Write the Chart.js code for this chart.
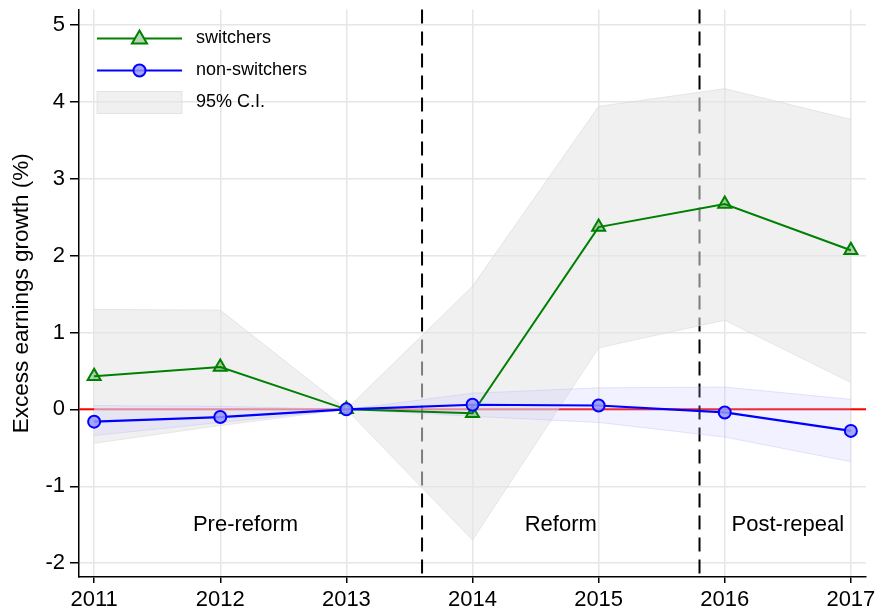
<!DOCTYPE html>
<html>
<head>
<meta charset="utf-8">
<script src="https://cdn.jsdelivr.net/npm/chart.js@4.4.1/dist/chart.umd.min.js"></script>
<style>
  html, body { margin: 0; padding: 0; background: #fff; }
  canvas { display: block; }
</style>
</head>
<body>
<canvas id="myChart" width="876" height="613"></canvas>
<script>
// values
const years = [2011, 2012, 2013, 2014, 2015, 2016, 2017];
const switchers = [0.43, 0.55, 0, -0.05, 2.37, 2.67, 2.07];
const switchersHi = [1.30, 1.29, 0, 1.60, 3.94, 4.17, 3.77];
const switchersLo = [-0.44, -0.21, 0, -1.70, 0.80, 1.16, 0.35];
const nonSwitchers = [-0.16, -0.10, 0, 0.06, 0.05, -0.04, -0.28];
const nonSwitchersHi = [0.05, 0.04, 0, 0.21, 0.28, 0.29, 0.13];
const nonSwitchersLo = [-0.34, -0.17, 0, -0.09, -0.17, -0.36, -0.68];
const yTicks = [-2, -1, 0, 1, 2, 3, 4, 5];
const periodBreaks = [2013.6, 2015.8];
const periodNames = ["Pre-reform", "Reform", "Post-repeal"];
const periodLabelX = [2012.2, 2014.7, 2016.5];
const periodLabelY = -1.5;

const FONT = "'Liberation Sans', Arial, sans-serif";
const pts = (arr) => years.map((x, i) => ({ x: x, y: arr[i] }));

// zero line + period separators, drawn under the bands
const refLines = {
  id: "refLines",
  beforeDatasetsDraw(chart) {
    const { ctx, chartArea, scales } = chart;
    ctx.save();
    const y0 = scales.y.getPixelForValue(0);
    ctx.strokeStyle = "#ff0000";
    ctx.lineWidth = 2;
    ctx.beginPath();
    ctx.moveTo(chartArea.left, y0);
    ctx.lineTo(chartArea.right, y0);
    ctx.stroke();
    ctx.strokeStyle = "#000";
    ctx.lineWidth = 2;
    ctx.setLineDash([14, 8]);
    periodBreaks.forEach((b) => {
      const x = scales.x.getPixelForValue(b);
      ctx.beginPath();
      ctx.moveTo(x, chartArea.top);
      ctx.lineTo(x, chartArea.bottom);
      ctx.stroke();
    });
    ctx.restore();
  },
  afterDatasetsDraw(chart) {
    const { ctx, scales } = chart;
    ctx.save();
    ctx.fillStyle = "#000";
    ctx.font = "22px " + FONT;
    ctx.textAlign = "center";
    ctx.textBaseline = "middle";
    periodNames.forEach((name, i) => {
      ctx.fillText(name, scales.x.getPixelForValue(periodLabelX[i]), scales.y.getPixelForValue(periodLabelY));
    });
    ctx.restore();
  }
};

// legend box in the top-left corner
const cornerLegend = {
  id: "cornerLegend",
  afterDraw(chart) {
    const { ctx, chartArea } = chart;
    const x0 = chartArea.left + 18, x1 = x0 + 85, xm = (x0 + x1) / 2;
    const rows = [chartArea.top + 29, chartArea.top + 61, chartArea.top + 93];
    ctx.save();
    ctx.font = "18px " + FONT;
    ctx.textBaseline = "middle";
    // switchers
    ctx.strokeStyle = "#008000";
    ctx.lineWidth = 2;
    ctx.beginPath(); ctx.moveTo(x0, rows[0]); ctx.lineTo(x1, rows[0]); ctx.stroke();
    ctx.fillStyle = "#fff";
    ctx.beginPath();
    ctx.moveTo(xm, rows[0] - 8); ctx.lineTo(xm + 7.5, rows[0] + 5); ctx.lineTo(xm - 7.5, rows[0] + 5); ctx.closePath();
    ctx.fill();
    ctx.fillStyle = "rgba(0,128,0,0.3)";
    ctx.fill(); ctx.stroke();
    // non-switchers
    ctx.strokeStyle = "#0000ff";
    ctx.lineWidth = 2;
    ctx.beginPath(); ctx.moveTo(x0, rows[1]); ctx.lineTo(x1, rows[1]); ctx.stroke();
    ctx.fillStyle = "rgba(150,150,250,0.85)";
    ctx.beginPath(); ctx.arc(xm, rows[1], 6, 0, Math.PI * 2); ctx.fill(); ctx.stroke();
    // CI swatch
    ctx.fillStyle = "rgba(227,227,227,0.55)";
    ctx.strokeStyle = "rgba(215,215,215,0.6)";
    ctx.lineWidth = 1;
    ctx.fillRect(x0, rows[2] - 11, x1 - x0, 22);
    ctx.strokeRect(x0, rows[2] - 11, x1 - x0, 22);
    ctx.fillStyle = "#000";
    ctx.fillText("switchers", x1 + 14, rows[0]);
    ctx.fillText("non-switchers", x1 + 14, rows[1]);
    ctx.fillText("95% C.I.", x1 + 14, rows[2]);
    ctx.restore();
  }
};

const ctx = document.getElementById("myChart").getContext("2d");
const myChart = new Chart(ctx, {
  type: "line",
  data: {
    datasets: [
      {
        label: "switchers",
        data: pts(switchers),
        borderColor: "#008000",
        borderWidth: 2,
        pointStyle: "triangle",
        pointRadius: 7.5,
        pointBorderWidth: 2,
        pointBorderColor: "#008000",
        pointBackgroundColor: "rgba(0,128,0,0.3)",
        fill: false,
        order: 1
      },
      {
        label: "non-switchers",
        data: pts(nonSwitchers),
        borderColor: "#0000ff",
        borderWidth: 2.2,
        pointStyle: "circle",
        pointRadius: 6,
        pointBorderWidth: 2,
        pointBorderColor: "#0000ff",
        pointBackgroundColor: "rgba(150,150,250,0.85)",
        fill: false,
        order: 0
      },
      {
        label: "switchers CI hi",
        data: pts(switchersHi),
        borderColor: "rgba(215,215,215,0.6)",
        borderWidth: 1,
        pointRadius: 0,
        backgroundColor: "rgba(227,227,227,0.55)",
        fill: "+1",
        order: 3
      },
      {
        label: "switchers CI lo",
        data: pts(switchersLo),
        borderColor: "rgba(215,215,215,0.6)",
        borderWidth: 1,
        pointRadius: 0,
        fill: false,
        order: 3
      },
      {
        label: "non-switchers CI hi",
        data: pts(nonSwitchersHi),
        borderColor: "rgba(180,180,255,0.35)",
        borderWidth: 1,
        pointRadius: 0,
        backgroundColor: "rgba(190,190,255,0.22)",
        fill: "+1",
        order: 2
      },
      {
        label: "non-switchers CI lo",
        data: pts(nonSwitchersLo),
        borderColor: "rgba(180,180,255,0.35)",
        borderWidth: 1,
        pointRadius: 0,
        fill: false,
        order: 2
      }
    ]
  },
  options: {
    responsive: false,
    animation: false,
    devicePixelRatio: 1,
    layout: { padding: { top: 9, right: 10, left: 0, bottom: 0 } },
    plugins: {
      legend: { display: false },
      tooltip: { enabled: false }
    },
    elements: { line: { tension: 0 } },
    scales: {
      x: {
        type: "linear",
        min: 2010.88,
        max: 2017.12,
        afterBuildTicks: (s) => { s.ticks = years.map((v) => ({ value: v })); },
        afterFit: (s) => { s.height = 36; s.paddingLeft = 0; s.paddingRight = 0; },
        ticks: {
          color: "#000",
          font: { family: FONT, size: 22 },
          padding: 4,
          maxRotation: 0,
          callback: (v) => String(v)
        },
        grid: { color: "#e6e6e6", lineWidth: 1.5, tickColor: "#000", tickWidth: 1.5, tickLength: 6 },
        border: { color: "#000", width: 1.5 }
      },
      y: {
        min: -2.18,
        max: 5.2,
        afterBuildTicks: (s) => { s.ticks = yTicks.map((v) => ({ value: v })); },
        afterFit: (s) => { s.width = 79; s.paddingTop = 0; s.paddingBottom = 0; },
        ticks: {
          color: "#000",
          font: { family: FONT, size: 22 },
          padding: 5
        },
        grid: { color: "#e6e6e6", lineWidth: 1.5, tickColor: "#000", tickWidth: 1.5, tickLength: 9 },
        border: { color: "#000", width: 1.5 },
        title: {
          display: true,
          text: "Excess earnings growth (%)",
          color: "#000",
          font: { family: FONT, size: 22.5 },
          padding: { top: 8, bottom: 0 }
        }
      }
    }
  },
  plugins: [refLines, cornerLegend]
});
</script>
</body>
</html>
